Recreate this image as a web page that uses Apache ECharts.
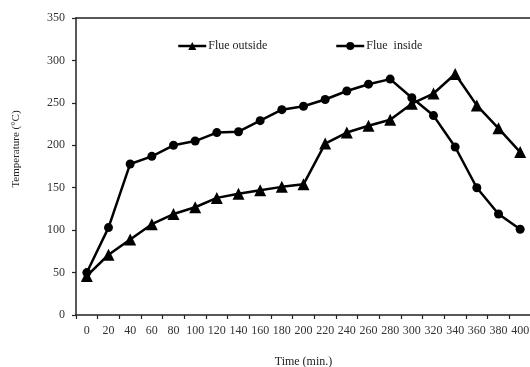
<!DOCTYPE html>
<html>
<head>
<meta charset="utf-8">
<script src="https://cdn.jsdelivr.net/npm/echarts@6/dist/echarts.min.js"></script>
<style>html,body{margin:0;padding:0;background:#fff;}#c{width:530px;height:367px;}</style>
</head>
<body>
<div id="c"></div>
<script>
var categories = ['0','20','40','60','80','100','120','140','160','180','200','220','240','260','280','300','320','340','360','380','400'];
var flueOutside = [46, 71, 89, 107, 119, 127, 138, 143, 147, 151, 154, 202, 215, 223, 230, 249, 261, 284, 247, 220, 192];
var flueInside = [50, 103, 178, 187, 200, 205, 215, 216, 229, 242, 246, 254, 264, 272, 278, 256, 235, 198, 150, 119, 101];
var yTicks = {min: 0, max: 350, interval: 50};
var serif = '"Liberation Serif", "Times New Roman", serif';

var chart = echarts.init(document.getElementById('c'));
chart.setOption({
  animation: false,
  backgroundColor: '#fff',
  grid: {left: 76, top: 18, width: 455, height: 297, show: false, containLabel: false, outerBoundsMode: 'none'},
  legend: [
    {data: ['Flue outside'], left: 172, top: 35, itemWidth: 28, itemHeight: 10, itemGap: 2,
     lineStyle: {width: 2.5},
     textStyle: {fontFamily: serif, fontSize: 12, color: '#222', padding: [0,0,0,-3]}},
    {data: ['Flue  inside'], left: 330, top: 35, itemWidth: 28, itemHeight: 10, itemGap: 2,
     lineStyle: {width: 2.5},
     textStyle: {fontFamily: serif, fontSize: 12, color: '#222', padding: [0,0,0,-3]}}
  ],
  xAxis: [{
    type: 'category',
    data: categories,
    boundaryGap: true,
    name: 'Time (min.)',
    nameLocation: 'middle',
    nameGap: 41,
    nameTextStyle: {fontFamily: serif, fontSize: 12, color: '#222'},
    axisLine: {lineStyle: {color: '#222', width: 1.5}},
    axisTick: {show: true, length: 4, inside: false, lineStyle: {color: '#222', width: 1.2}},
    axisLabel: {fontFamily: serif, fontSize: 12, color: '#333', margin: 10, interval: 0},
    splitLine: {show: false}
  }, {
    type: 'category',
    position: 'top',
    data: categories,
    axisLine: {show: true, lineStyle: {color: '#222', width: 1.5}},
    axisTick: {show: false},
    axisLabel: {show: false},
    splitLine: {show: false}
  }],
  yAxis: {
    type: 'value',
    min: yTicks.min, max: yTicks.max, interval: yTicks.interval,
    axisLine: {show: true, lineStyle: {color: '#222', width: 1.5}},
    axisTick: {show: true, length: 4, lineStyle: {color: '#222', width: 1.2}},
    axisLabel: {fontFamily: serif, fontSize: 12, color: '#333', margin: 11},
    splitLine: {show: false}
  },
  graphic: [{
    type: 'text', x: 16, y: 149, rotation: Math.PI / 2,
    style: {text: 'Temperature (°C)', fontFamily: serif, fontSize: 11, fill: '#222', align: 'center', verticalAlign: 'middle'}
  }],
  series: [{
    name: 'Flue outside',
    type: 'line',
    data: flueOutside,
    symbol: 'triangle',
    symbolSize: 12,
    lineStyle: {color: '#000', width: 2.5},
    itemStyle: {color: '#000'}
  }, {
    name: 'Flue  inside',
    type: 'line',
    data: flueInside,
    symbol: 'circle',
    symbolSize: 9,
    lineStyle: {color: '#000', width: 2.5},
    itemStyle: {color: '#000'}
  }]
});
</script>
</body>
</html>
